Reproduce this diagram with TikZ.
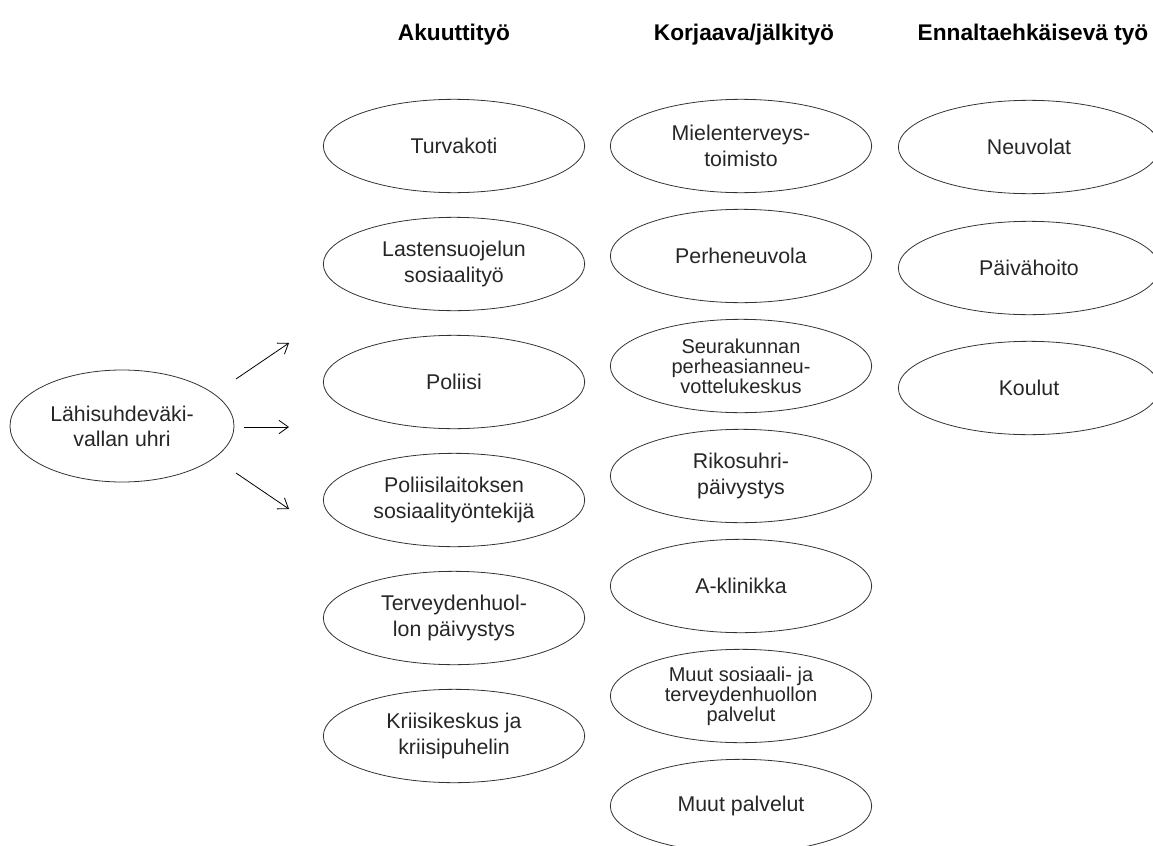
\documentclass[tikz,border=0pt]{standalone}
\usepackage{fontspec}
\setmainfont{Liberation Sans}
\usetikzlibrary{arrows.meta,shapes.geometric}
\tikzset{>/.tip={Straight Barb[length=7pt,width=10pt]},
  palvelu/.style={ellipse, draw=black!80, line width=0.6pt, minimum width=196pt, minimum height=70pt,
    inner sep=0pt, align=center, text=black!85, font=\fontsize{16}{20}\selectfont},
  pitka/.style={palvelu, font=\fontsize{15}{15}\selectfont},
  otsikko/.style={font=\fontsize{17}{20}\selectfont\bfseries}}

\begin{document}
\begin{tikzpicture}[x=0.75pt,y=-0.75pt]
\useasboundingbox (0,0) rectangle (1153,846);
\node[otsikko] (akuutti) at (454,35) {Akuuttityö};
\node[otsikko] (korjaava) at (744,35) {Korjaava/jälkityö};
\node[otsikko] (ennalta) at (1033,35) {Ennaltaehkäisevä työ};

\node[palvelu, minimum width=168pt, minimum height=84pt, font=\fontsize{16}{18.75}\selectfont] (uhri) at (122,426) {Lähisuhdeväki-\\vallan uhri};

\node[palvelu] (turvakoti) at (454,146) {Turvakoti};
\node[palvelu] (lastensuojelu) at (454,264) {Lastensuojelun\\sosiaalityö};
\node[palvelu] (poliisi) at (454,382) {Poliisi};
\node[palvelu] (sosiaalityontekija) at (454,500) {Poliisilaitoksen\\sosiaalityöntekijä};
\node[palvelu] (paivystys) at (454,618) {Terveydenhuol-\\lon päivystys};
\node[palvelu] (kriisikeskus) at (454,736) {Kriisikeskus ja\\kriisipuhelin};

\node[palvelu] (mielenterveys) at (741,146) {Mielenterveys-\\toimisto};
\node[palvelu] (perheneuvola) at (741,256) {Perheneuvola};
\node[pitka] (seurakunta) at (741,366) {Seurakunnan\\perheasianneu-\\vottelukeskus};
\node[palvelu] (rikosuhri) at (741,476) {Rikosuhri-\\päivystys};
\node[palvelu] (aklinikka) at (741,586) {A-klinikka};
\node[pitka] (muutsote) at (741,696) {Muut sosiaali- ja\\terveydenhuollon\\palvelut};
\node[palvelu] (muutpalvelut) at (741,806) {Muut palvelut};

\node[palvelu] (neuvolat) at (1029,147) {Neuvolat};
\node[palvelu] (paivahoito) at (1029,268) {Päivähoito};
\node[palvelu] (koulut) at (1029,388) {Koulut};

\coordinate (ylos-a) at (236,379);
\coordinate (ylos-b) at (289,343);
\coordinate (suoraan-a) at (244,427);
\coordinate (suoraan-b) at (289,427);
\coordinate (alas-a) at (236,473);
\coordinate (alas-b) at (289,509);
\draw[->, line width=0.6pt] (ylos-a) -- (ylos-b);
\draw[->, line width=0.6pt] (suoraan-a) -- (suoraan-b);
\draw[->, line width=0.6pt] (alas-a) -- (alas-b);
\end{tikzpicture}
\end{document}
